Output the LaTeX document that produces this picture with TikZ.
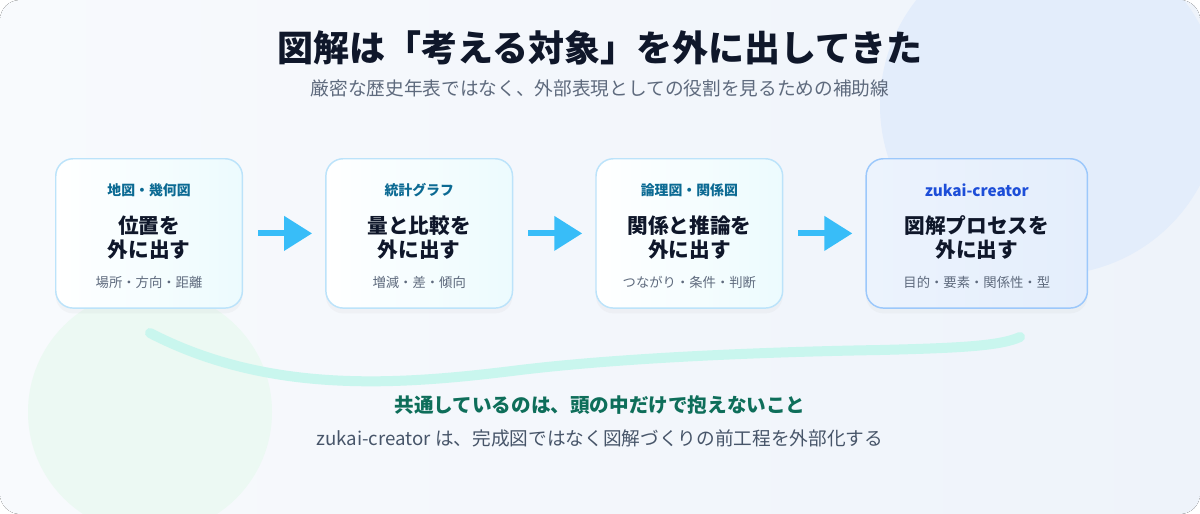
\documentclass[tikz,border=0pt]{standalone}
\usepackage{fontspec}
\setmainfont{Noto Sans CJK JP}
\newfontfamily\heavyjp{Noto Sans CJK JP Black}
\usepackage{xcolor}
\usetikzlibrary{arrows.meta,positioning,shadows}
\definecolor{ZKInk}{HTML}{0F172A}
\definecolor{ZKGrey}{HTML}{5E6A7D}
\definecolor{ZKSlate}{HTML}{475569}
\definecolor{ZKEdge}{HTML}{BCE3FA}
\definecolor{ZKLight}{HTML}{ECFBFE}
\definecolor{ZKBlueEdge}{HTML}{9CC8FB}
\definecolor{ZKBlueFill}{HTML}{E4EEFC}
\definecolor{ZKLabel}{HTML}{0B6A93}
\definecolor{ZKBrand}{HTML}{1D4ED8}
\definecolor{ZKSky}{HTML}{38BDF8}
\definecolor{ZKMint}{HTML}{C9F6EE}
\definecolor{ZKGreen}{HTML}{0E6E5A}
\definecolor{ZKBgA}{HTML}{F8FAFD}
\definecolor{ZKBgB}{HTML}{EEF3FA}
\definecolor{ZKBlob}{HTML}{E3EDFB}
\definecolor{ZKLeaf}{HTML}{ECF9F3}

\begin{document}
\begin{tikzpicture}[
 x=0.75pt,y=-0.75pt,
 node distance=61.5pt,
 box/.style={draw=ZKEdge,line width=1.1pt,rounded corners=13pt,left color=white,right color=ZKLight,minimum width=140pt,minimum height=112pt,drop shadow={opacity=0.05,shadow xshift=0pt,shadow yshift=-4pt}},
 mainbox/.style={box,draw=ZKBlueEdge,left color=ZKBlueFill!70!white,right color=ZKBlueFill,minimum width=166pt},
 lbl/.style={font=\fontsize{10.4}{12}\selectfont\bfseries,text=ZKLabel,inner sep=0pt},
 big/.style={font=\fontsize{15.5}{18}\selectfont\heavyjp,text=ZKInk,align=center,inner sep=0pt},
 small/.style={font=\fontsize{10}{12}\selectfont,text=ZKGrey,inner sep=0pt},
 flow/.style={-{Triangle[length=21pt,width=25pt]},line width=4.5pt,color=ZKSky,shorten <=11.25pt,shorten >=9.75pt}
]
\useasboundingbox (0,0) rectangle (1200,514);
% background
\fill[rounded corners=15pt,left color=ZKBgA,right color=ZKBgB] (0,0) rectangle (1200,514);
\begin{scope}
\clip[rounded corners=15pt] (0,0) rectangle (1200,514);
\fill[ZKBlob] (1050,105) circle (170);
\fill[ZKLeaf] (150,412) circle (122);
\end{scope}
% heading
\node[font=\fontsize{27}{30}\selectfont\heavyjp,text=ZKInk] (ttl) at (600,48) {図解は「考える対象」を外に出してきた};
\node[font=\fontsize{14}{16}\selectfont,text=ZKGrey] (sub) at (600,88) {厳密な歴史年表ではなく、外部表現としての役割を見るための補助線};
% boxes
\node[box,anchor=north west] (b1) at (55,158) {};
\node[box,right=of b1] (b2) {};
\node[box,right=of b2] (b3) {};
\node[mainbox,right=of b3] (b4) {};
\node[lbl] (b1l) at ([yshift=-24pt]b1.north) {地図・幾何図};
\node[big] (b1m) at ([yshift=-60pt]b1.north) {位置を\\外に出す};
\node[small] (b1s) at ([yshift=-93pt]b1.north) {場所・方向・距離};
\node[lbl] (b2l) at ([yshift=-24pt]b2.north) {統計グラフ};
\node[big] (b2m) at ([yshift=-60pt]b2.north) {量と比較を\\外に出す};
\node[small] (b2s) at ([yshift=-93pt]b2.north) {増減・差・傾向};
\node[lbl] (b3l) at ([yshift=-24pt]b3.north) {論理図・関係図};
\node[big] (b3m) at ([yshift=-60pt]b3.north) {関係と推論を\\外に出す};
\node[small] (b3s) at ([yshift=-93pt]b3.north) {つながり・条件・判断};
\node[lbl,text=ZKBrand,font=\fontsize{11.5}{13}\selectfont\bfseries] (b4l) at ([yshift=-24pt]b4.north) {zukai-creator};
\node[big] (b4m) at ([yshift=-60pt]b4.north) {図解プロセスを\\外に出す};
\node[small] (b4s) at ([yshift=-93pt]b4.north) {目的・要素・関係性・型};
\draw[flow] (b1) -- (b2); \draw[flow] (b2) -- (b3); \draw[flow] (b3) -- (b4);
% wave
\draw[ZKMint,line width=7.5pt,line cap=round] (150,333) .. controls (270,395) and (400,385) .. (520,370) .. controls (620,358) and (760,352) .. (880,350) .. controls (960,348) and (1000,346) .. (1020,337);
% message
\node[font=\fontsize{14.7}{17}\selectfont\heavyjp,text=ZKGreen] (msg) at (600,405) {共通しているのは、頭の中だけで抱えないこと};
\node[font=\fontsize{14}{16}\selectfont,text=ZKSlate] (note) at (600,438) {zukai-creator は、完成図ではなく図解づくりの前工程を外部化する};
\end{tikzpicture}
\end{document}
